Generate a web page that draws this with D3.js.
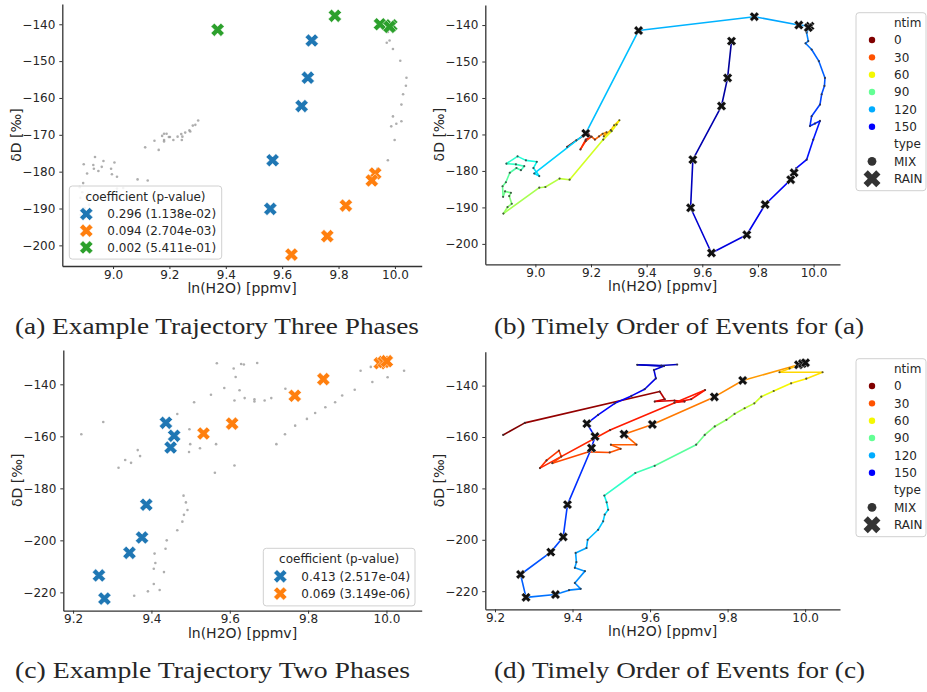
<!DOCTYPE html>
<html>
<head>
<meta charset="utf-8">
<title>Trajectory phases</title>
<script src="https://cdn.jsdelivr.net/npm/d3@7"></script>
<style>
  body { margin: 0; background: #fff; }
  svg text { font-family: "DejaVu Sans", sans-serif; fill: #262626; }
  .cap { font-family: "Liberation Serif", "DejaVu Serif", serif; }
</style>
</head>
<body>
<svg id="fig" width="927" height="692"></svg>
<script>
// rows: ntim, ln(H2O) [ppmv], dD [permil], type, phase (0 = none)
var trajA = [
  [0, 9.114, -173.4, "MIX", 0], [4, 9.147, -171.6, "MIX", 0], [8, 9.174, -170.3, "MIX", 0],
  [12, 9.190, -169.7, "MIX", 0], [16, 9.198, -170.6, "MIX", 0], [20, 9.181, -171.4, "MIX", 0],
  [24, 9.162, -174.1, "MIX", 0], [27, 9.181, -171.8, "MIX", 0], [30, 9.202, -170.6, "MIX", 0],
  [33, 9.214, -171.4, "MIX", 0], [37, 9.229, -170.5, "MIX", 0], [41, 9.242, -169.8, "MIX", 0],
  [45, 9.256, -169.4, "MIX", 0], [48, 9.246, -170.5, "MIX", 0], [52, 9.271, -168.8, "MIX", 0],
  [55, 9.283, -167.5, "MIX", 0], [58, 9.302, -166.1, "MIX", 0], [61, 9.292, -167.3, "MIX", 0],
  [64, 9.274, -169.1, "MIX", 0], [67, 9.244, -171.4, "MIX", 0], [71, 9.123, -182.4, "MIX", 0],
  [73, 9.087, -182.1, "MIX", 0], [75, 9.036, -184.4, "MIX", 0], [76, 9.014, -184.6, "MIX", 0],
  [80, 8.885, -191.7, "MIX", 0], [82, 8.900, -189.9, "MIX", 0], [84, 8.915, -189.0, "MIX", 0],
  [86, 8.906, -186.9, "MIX", 0], [87, 8.912, -186.0, "MIX", 0], [88, 8.891, -185.6, "MIX", 0],
  [89, 8.884, -187.1, "MIX", 0], [90, 8.882, -184.2, "MIX", 0], [92, 8.894, -183.1, "MIX", 0],
  [94, 8.908, -180.5, "MIX", 0], [96, 8.932, -179.2, "MIX", 0], [97, 8.948, -179.8, "MIX", 0],
  [99, 8.960, -178.7, "MIX", 0], [100, 8.930, -178.2, "MIX", 0], [102, 8.896, -178.0, "MIX", 0],
  [104, 8.936, -176.0, "MIX", 0], [106, 8.966, -177.1, "MIX", 0], [108, 9.005, -177.5, "MIX", 0],
  [110, 8.993, -179.2, "MIX", 0], [112, 9.014, -181.4, "MIX", 0], [114, 8.996, -180.7, "MIX", 0],
  [117, 9.181, -169.7, "RAIN", 0], [119, 9.371, -141.5, "RAIN", 3], [121, 9.787, -137.7, "RAIN", 3],
  [123, 9.947, -140.0, "RAIN", 3], [124, 9.987, -140.3, "RAIN", 3], [125, 9.981, -140.7, "RAIN", 3],
  [126, 9.990, -139.8, "MIX", 0], [127, 9.975, -142.1, "MIX", 0], [129, 9.981, -144.4, "MIX", 0],
  [130, 9.971, -145.0, "MIX", 0], [132, 9.993, -146.7, "MIX", 0], [133, 10.019, -149.9, "MIX", 0],
  [135, 10.041, -154.5, "MIX", 0], [136, 10.039, -156.7, "MIX", 0], [138, 10.029, -159.0, "MIX", 0],
  [139, 10.023, -161.8, "MIX", 0], [141, 9.993, -165.0, "MIX", 0], [142, 9.987, -167.7, "MIX", 0],
  [143, 10.005, -167.0, "MIX", 0], [145, 10.023, -166.3, "MIX", 0], [146, 9.999, -171.4, "MIX", 0],
  [148, 9.975, -176.9, "MIX", 0], [150, 9.938, -179.2, "MIX", 0],
  [151, 9.930, -180.5, "RAIN", 2], [152, 9.918, -182.4, "RAIN", 2], [154, 9.826, -189.2, "RAIN", 2],
  [156, 9.760, -197.5, "RAIN", 2], [158, 9.633, -202.5, "RAIN", 2],
  [161, 9.558, -190.1, "RAIN", 1], [163, 9.566, -176.9, "RAIN", 1], [165, 9.669, -162.2, "RAIN", 1],
  [166, 9.691, -154.5, "RAIN", 1], [167, 9.705, -144.4, "RAIN", 1]
];

var trajC = [
  [0, 9.221, -159.2, "MIX", 0], [3, 9.277, -154.5, "MIX", 0], [8, 9.625, -142.3, "MIX", 0],
  [11, 9.638, -145.3, "MIX", 0], [13, 9.612, -146.2, "MIX", 0], [15, 9.663, -145.8, "MIX", 0],
  [16, 9.689, -146.2, "MIX", 0], [17, 9.663, -146.6, "MIX", 0], [18, 9.706, -145.3, "MIX", 0],
  [20, 9.742, -141.7, "MIX", 0], [22, 9.497, -157.3, "MIX", 0], [24, 9.316, -172.1, "MIX", 0],
  [25, 9.333, -169.1, "MIX", 0], [26, 9.365, -165.3, "MIX", 0], [27, 9.371, -167.6, "MIX", 0],
  [28, 9.348, -170.2, "MIX", 0], [29, 9.440, -165.8, "MIX", 0], [30, 9.496, -166.0, "MIX", 0],
  [31, 9.524, -164.6, "MIX", 0], [32, 9.499, -163.0, "MIX", 0], [33, 9.565, -163.0, "MIX", 0],
  [35, 9.533, -158.9, "RAIN", 2], [37, 9.606, -155.1, "RAIN", 2], [40, 9.766, -144.4, "RAIN", 2],
  [43, 9.839, -138.0, "RAIN", 2], [47, 9.983, -131.9, "RAIN", 2], [48, 9.993, -131.4, "RAIN", 2],
  [49, 10.001, -131.1, "RAIN", 2],
  [52, 9.960, -133.3, "MIX", 0], [54, 9.934, -134.8, "MIX", 0], [56, 10.045, -134.8, "MIX", 0],
  [58, 10.003, -137.3, "MIX", 0], [60, 9.964, -139.1, "MIX", 0], [64, 9.919, -142.1, "MIX", 0],
  [68, 9.887, -144.3, "MIX", 0], [71, 9.869, -146.9, "MIX", 0], [74, 9.844, -148.8, "MIX", 0],
  [77, 9.818, -151.0, "MIX", 0], [80, 9.797, -153.3, "MIX", 0], [84, 9.767, -155.9, "MIX", 0],
  [88, 9.741, -159.2, "MIX", 0], [92, 9.719, -163.0, "MIX", 0], [97, 9.612, -171.2, "MIX", 0],
  [101, 9.562, -174.0, "MIX", 0], [108, 9.482, -182.8, "MIX", 0], [110, 9.488, -185.4, "MIX", 0],
  [112, 9.492, -188.3, "MIX", 0], [114, 9.483, -190.2, "MIX", 0], [116, 9.479, -192.8, "MIX", 0],
  [118, 9.466, -196.1, "MIX", 0], [120, 9.439, -200.0, "MIX", 0], [121, 9.436, -203.2, "MIX", 0],
  [122, 9.408, -205.1, "MIX", 0], [123, 9.410, -208.7, "MIX", 0], [124, 9.406, -210.9, "MIX", 0],
  [125, 9.432, -212.2, "MIX", 0], [126, 9.406, -216.8, "MIX", 0], [127, 9.421, -219.1, "MIX", 0],
  [128, 9.391, -219.6, "MIX", 0], [130, 9.356, -221.3, "RAIN", 0],
  [133, 9.280, -222.4, "RAIN", 1], [135, 9.266, -213.5, "RAIN", 1], [137, 9.344, -204.8, "RAIN", 1],
  [139, 9.376, -198.9, "RAIN", 1], [141, 9.387, -186.3, "RAIN", 1], [144, 9.449, -164.3, "RAIN", 1],
  [145, 9.458, -159.8, "RAIN", 1], [147, 9.437, -154.8, "RAIN", 1],
  [149, 9.466, -151.4, "MIX", 0], [151, 9.509, -146.9, "MIX", 0], [153, 9.552, -144.0, "MIX", 0],
  [155, 9.586, -141.4, "MIX", 0], [157, 9.615, -137.2, "MIX", 0], [158, 9.610, -133.9, "MIX", 0],
  [159, 9.636, -132.4, "MIX", 0], [160, 9.567, -131.9, "MIX", 0], [161, 9.629, -132.2, "MIX", 0],
  [162, 9.670, -131.8, "MIX", 0]
];

var phaseColors = ["#1f77b4", "#ff7f0e", "#2ca02c"];
var phaseLabelsA = ["0.296 (1.138e-02)", "0.094 (2.704e-03)", "0.002 (5.411e-01)"];
var phaseLabelsC = ["0.413 (2.517e-04)", "0.069 (3.149e-06)"];
var ntimTicks = [0, 30, 60, 90, 120, 150];
var typeLabels = ["MIX", "RAIN"];
var hueNorm = [0, 170];

var xTicksA = [9.0, 9.2, 9.4, 9.6, 9.8, 10.0];
var yTicksA = [-200, -190, -180, -170, -160, -150, -140];
var xTicksC = [9.2, 9.4, 9.6, 9.8, 10.0];
var yTicksC = [-220, -200, -180, -160, -140];
var xLimA = [8.82, 10.095], yLimA = [-205.6, -134.5];
var xLimC = [9.175, 10.09], yLimC = [-227.05, -126.8];

var captions = [
  "(a) Example Trajectory Three Phases",
  "(b) Timely Order of Events for (a)",
  "(c) Example Trajectory Two Phases",
  "(d) Timely Order of Events for (c)"
];

var svg = d3.select("#fig");
var FS = 12;

// matplotlib jet, used reversed
var jr = d3.scaleLinear().domain([0, .35, .66, .89, 1]).range([0, 0, 1, 1, .5]).clamp(true),
    jg = d3.scaleLinear().domain([0, .125, .375, .64, .91, 1]).range([0, 0, 1, 1, 0, 0]).clamp(true),
    jb = d3.scaleLinear().domain([0, .11, .34, .65, 1]).range([.5, 1, 1, 0, 0]).clamp(true);
function ntimColor(t) {
  var v = 1 - (t - hueNorm[0]) / (hueNorm[1] - hueNorm[0]);
  return d3.rgb(jr(v) * 255, jg(v) * 255, jb(v) * 255).formatHex();
}

// filled "X" marker of size L
function xPath(L) {
  var a = L / 6, b = L / 2, s = Math.SQRT1_2;
  var pts = [[-a, -b], [a, -b], [a, -a], [b, -a], [b, a], [a, a], [a, b], [-a, b], [-a, a], [-b, a], [-b, -a], [-a, -a]];
  return "M" + pts.map(function (p) { return [((p[0] - p[1]) * s).toFixed(2), ((p[0] + p[1]) * s).toFixed(2)].join(","); }).join("L") + "Z";
}

function axes(g, x, y, xt, yt) {
  var xr = x.range(), yr = y.range();
  var ax = g.append("g").attr("transform", "translate(0," + yr[0] + ")")
    .call(d3.axisBottom(x).tickValues(xt).tickFormat(d3.format(".1f")).tickSize(3).tickSizeOuter(0).tickPadding(1));
  var ay = g.append("g").attr("transform", "translate(" + xr[0] + ",0)")
    .call(d3.axisLeft(y).tickValues(yt).tickFormat(d3.format("d")).tickSize(3).tickSizeOuter(0).tickPadding(4));
  [ax, ay].forEach(function (a) {
    a.select(".domain").attr("stroke", "#333").attr("stroke-width", 1.3);
    a.selectAll(".tick line").attr("stroke", "#333");
    a.selectAll(".tick text").attr("font-size", FS).attr("fill", "#262626");
  });
  g.append("text").attr("x", (xr[0] + xr[1]) / 2).attr("y", yr[0] + 27)
    .attr("text-anchor", "middle").attr("font-size", 14).text("ln(H2O) [ppmv]");
  g.append("text").attr("transform", "translate(" + (xr[0] - 41) + "," + ((yr[0] + yr[1]) / 2) + ") rotate(-90)")
    .attr("text-anchor", "middle").attr("font-size", 14).text("δD [‰]");
}

function phasePanel(data, xLim, yLim, fr, xt, yt) {
  var x = d3.scaleLinear().domain(xLim).range([fr.l, fr.r]);
  var y = d3.scaleLinear().domain(yLim).range([fr.b, fr.t]);
  var g = svg.append("g");
  axes(g, x, y, xt, yt);
  g.append("g").selectAll("circle").data(data.filter(function (d) { return d[4] === 0; }))
    .enter().append("circle")
    .attr("cx", function (d) { return x(d[1]); }).attr("cy", function (d) { return y(d[2]); })
    .attr("r", 1.3).attr("fill", "#9a9a9a").attr("opacity", 0.8);
  g.append("g").selectAll("path").data(data.filter(function (d) { return d[4] > 0; }))
    .enter().append("path")
    .attr("d", xPath(14))
    .attr("transform", function (d) { return "translate(" + x(d[1]) + "," + y(d[2]) + ")"; })
    .attr("fill", function (d) { return phaseColors[d[4] - 1]; })
    .attr("stroke", "#fff").attr("stroke-width", 0.5);
  return g;
}

function phaseLegend(g, labels, bx, by, bw, rowH) {
  var bh = 23 + labels.length * rowH;
  g.append("rect").attr("x", bx).attr("y", by).attr("width", bw).attr("height", bh)
    .attr("rx", 3).attr("fill", "#fff").attr("fill-opacity", 0.85).attr("stroke", "#d0d0d0");
  g.append("text").attr("x", bx + bw / 2).attr("y", by + 15).attr("text-anchor", "middle")
    .attr("font-size", FS).text("coefficient (p-value)");
  labels.forEach(function (lab, i) {
    var cy = by + 28 + i * rowH;
    g.append("path").attr("d", xPath(14)).attr("transform", "translate(" + (bx + 17) + "," + cy + ")")
      .attr("fill", phaseColors[i]).attr("stroke", "#fff").attr("stroke-width", 0.5);
    g.append("text").attr("x", bx + 38).attr("y", cy + 4.3).attr("font-size", FS).text(lab);
  });
}

function orderPanel(data, xLim, yLim, fr, xt, yt) {
  var x = d3.scaleLinear().domain(xLim).range([fr.l, fr.r]);
  var y = d3.scaleLinear().domain(yLim).range([fr.b, fr.t]);
  var g = svg.append("g");
  axes(g, x, y, xt, yt);
  var segs = d3.pairs(data);
  g.append("g").selectAll("line").data(segs).enter().append("line")
    .attr("x1", function (p) { return x(p[0][1]); }).attr("y1", function (p) { return y(p[0][2]); })
    .attr("x2", function (p) { return x(p[1][1]); }).attr("y2", function (p) { return y(p[1][2]); })
    .attr("stroke", function (p) { return ntimColor(p[0][0]); })
    .attr("stroke-width", 1.6).attr("stroke-linecap", "round");
  g.append("g").selectAll("circle").data(data).enter().append("circle")
    .attr("cx", function (d) { return x(d[1]); }).attr("cy", function (d) { return y(d[2]); })
    .attr("r", 1.1).attr("fill", "#333").attr("opacity", 0.8);
  g.append("g").selectAll("path").data(data.filter(function (d) { return d[3] === "RAIN"; }))
    .enter().append("path").attr("d", xPath(10))
    .attr("transform", function (d) { return "translate(" + x(d[1]) + "," + y(d[2]) + ")"; })
    .attr("fill", "#111").attr("stroke", "#fff").attr("stroke-width", 0.4);
  return g;
}

function ntimLegend(oy) {
  var g = svg.append("g");
  var row = 17.33, y0 = oy + 22.7, mx = 872, tx = 894;
  g.append("rect").attr("x", 856).attr("y", oy + 12.7).attr("width", 70).attr("height", 178)
    .attr("rx", 3).attr("fill", "#fff").attr("stroke", "#d0d0d0");
  g.append("text").attr("x", tx).attr("y", y0 + 4.3).attr("font-size", FS).text("ntim");
  ntimTicks.forEach(function (t, i) {
    var cy = y0 + (i + 1) * row;
    g.append("circle").attr("cx", mx).attr("cy", cy).attr("r", 3.2).attr("fill", ntimColor(t));
    g.append("text").attr("x", tx).attr("y", cy + 4.3).attr("font-size", FS).text(t);
  });
  var cyT = y0 + 7 * row;
  g.append("text").attr("x", tx).attr("y", cyT + 4.3).attr("font-size", FS).text("type");
  g.append("circle").attr("cx", mx).attr("cy", cyT + row).attr("r", 4.4).attr("fill", "#333");
  g.append("text").attr("x", tx).attr("y", cyT + row + 4.3).attr("font-size", FS).text(typeLabels[0]);
  g.append("path").attr("d", xPath(18)).attr("transform", "translate(" + mx + "," + (cyT + 2 * row) + ")").attr("fill", "#333");
  g.append("text").attr("x", tx).attr("y", cyT + 2 * row + 4.3).attr("font-size", FS).text(typeLabels[1]);
}

var gA = phasePanel(trajA, xLimA, yLimA, {l: 62.3, r: 421.7, t: 4, b: 266}, xTicksA, yTicksA);
phaseLegend(gA, phaseLabelsA, 69.3, 186, 152.4, 16.7);
orderPanel(trajA, xLimA, yLimA, {l: 485.3, r: 840, t: 5, b: 264.3}, xTicksA, yTicksA);
ntimLegend(0);

var gC = phasePanel(trajC, xLimC, yLimC, {l: 63.3, r: 421.7, t: 350, b: 610.7}, xTicksC, yTicksC);
phaseLegend(gC, phaseLabelsC, 263.3, 548.3, 151.7, 17.3);
orderPanel(trajC, xLimC, yLimC, {l: 485.3, r: 840, t: 351.7, b: 609.3}, xTicksC, yTicksC);
ntimLegend(346);

var capPos = [[15, 334, 404], [494, 334, 370], [15, 678, 395], [494, 678, 371]];
captions.forEach(function (c, i) {
  svg.append("text").attr("class", "cap").attr("x", capPos[i][0]).attr("y", capPos[i][1])
    .attr("font-size", 23).attr("textLength", capPos[i][2]).attr("lengthAdjust", "spacingAndGlyphs")
    .attr("fill", "#000").text(c);
});
</script>
</body>
</html>
